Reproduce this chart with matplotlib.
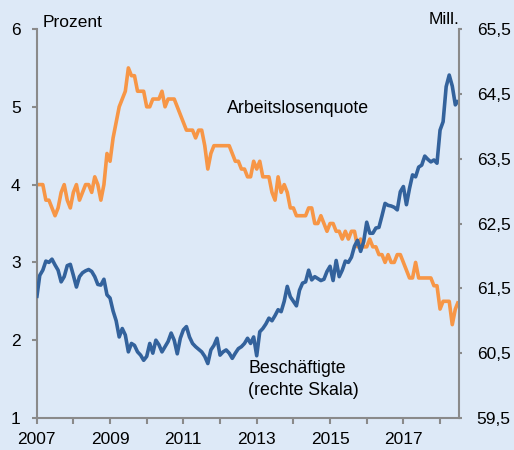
#!/usr/bin/env python3
# -*- coding: utf-8 -*-

import matplotlib
matplotlib.use("Agg")
import matplotlib.pyplot as plt
from matplotlib.ticker import FixedLocator, FuncFormatter


# Monatswerte, Januar 2007 bis Juli 2018 (eine Zeile je Jahr)
arbeitslosenquote = [
    4.0, 4.0, 4.0, 3.8, 3.8, 3.7, 3.6, 3.7, 3.9, 4.0, 3.8, 3.7,
    3.9, 4.0, 3.8, 3.9, 4.0, 4.0, 3.9, 4.1, 4.0, 3.8, 4.0, 4.4,
    4.3, 4.6, 4.8, 5.0, 5.1, 5.2, 5.5, 5.4, 5.4, 5.2, 5.2, 5.2,
    5.0, 5.0, 5.1, 5.1, 5.1, 5.2, 5.0, 5.1, 5.1, 5.1, 5.0, 4.9,
    4.8, 4.7, 4.7, 4.7, 4.6, 4.7, 4.7, 4.5, 4.2, 4.4, 4.5, 4.5,
    4.5, 4.5, 4.5, 4.5, 4.4, 4.3, 4.3, 4.2, 4.2, 4.1, 4.1, 4.3,
    4.2, 4.3, 4.1, 4.1, 4.1, 3.9, 3.8, 4.1, 3.9, 4.0, 3.9, 3.7,
    3.7, 3.6, 3.6, 3.6, 3.6, 3.7, 3.7, 3.5, 3.5, 3.6, 3.5, 3.4,
    3.5, 3.5, 3.4, 3.4, 3.3, 3.4, 3.3, 3.4, 3.4, 3.2, 3.3, 3.2,
    3.2, 3.3, 3.2, 3.2, 3.1, 3.1, 3.0, 3.1, 3.0, 3.0, 3.1, 3.1,
    3.0, 2.9, 2.8, 2.8, 3.0, 2.8, 2.8, 2.8, 2.8, 2.8, 2.7, 2.7,
    2.4, 2.5, 2.5, 2.5, 2.2, 2.4, 2.5,
]

# Beschaeftigte in Mill. (rechte Skala)
beschaeftigte = [
    61.35, 61.70, 61.78, 61.92, 61.90, 61.95, 61.86, 61.78, 61.60, 61.68, 61.85, 61.87,
    61.70, 61.52, 61.68, 61.74, 61.77, 61.79, 61.76, 61.68, 61.56, 61.55, 61.64, 61.40,
    61.35, 61.15, 61.00, 60.75, 60.88, 60.78, 60.52, 60.65, 60.62, 60.52, 60.47, 60.39,
    60.45, 60.65, 60.50, 60.70, 60.63, 60.52, 60.60, 60.68, 60.81, 60.70, 60.49, 60.73,
    60.86, 60.91, 60.75, 60.65, 60.60, 60.56, 60.52, 60.45, 60.34, 60.55, 60.62, 60.73,
    60.47, 60.52, 60.55, 60.50, 60.42, 60.50, 60.57, 60.60, 60.65, 60.73, 60.65, 60.75,
    60.46, 60.83, 60.88, 60.95, 61.04, 61.00, 61.08, 61.17, 61.14, 61.30, 61.53, 61.37,
    61.30, 61.23, 61.47, 61.58, 61.60, 61.78, 61.63, 61.68, 61.65, 61.62, 61.64, 61.76,
    61.84, 61.62, 61.93, 61.68, 61.78, 61.92, 61.90, 61.98, 62.15, 62.24, 62.07, 62.22,
    62.52, 62.35, 62.35, 62.43, 62.44, 62.62, 62.81, 62.78, 62.77, 62.75, 62.71, 62.99,
    63.07, 62.79, 63.04, 63.25, 63.22, 63.37, 63.40, 63.54, 63.49, 63.45, 63.48, 63.43,
    63.94, 64.07, 64.61, 64.79, 64.62, 64.33, 64.40,
]

jahre = [2007, 2009, 2011, 2013, 2015, 2017]
alle_jahre = list(range(2007, 2019))
ticks_links = [1, 2, 3, 4, 5, 6]
ticks_rechts = [59.5, 60.5, 61.5, 62.5, 63.5, 64.5, 65.5]

hintergrund = "#dde9f7"
orange = "#f79646"
blau = "#33629c"
grau = "#8a8a8a"

W, H = 514, 450


# Pixel (von oben links) -> Figurenkoordinaten
def px(x, y):
    return x / W, 1 - y / H


plt.rcParams["font.family"] = ["Liberation Sans", "DejaVu Sans"]

fig = plt.figure(figsize=(W / 100, H / 100), dpi=100, facecolor=hintergrund)
links, unten = px(36.7, 418)
ax = fig.add_axes([links, unten, (459.3 - 36.7) / W, (418 - 29) / H])
ax.set_facecolor(hintergrund)
ax2 = ax.twinx()

monate = list(range(len(arbeitslosenquote)))
ax.plot(monate, arbeitslosenquote, color=orange, lw=2.6,
        solid_joinstyle="round", solid_capstyle="butt")
ax2.plot(monate, beschaeftigte, color=blau, lw=2.6,
         solid_joinstyle="round", solid_capstyle="butt")

ax.set_xlim(0, 138.3)
ax.set_ylim(1, 6)
ax2.set_ylim(59.5, 65.5)

ax.xaxis.set_major_locator(FixedLocator([12 * (j - 2007) for j in jahre]))
ax.set_xticklabels([str(j) for j in jahre])
ax.xaxis.set_minor_locator(FixedLocator([12 * (j - 2007) for j in alle_jahre]))
ax.set_yticks(ticks_links)
ax2.set_yticks(ticks_rechts)
ax2.yaxis.set_major_formatter(FuncFormatter(lambda v, p: f"{v:.1f}".replace(".", ",")))

for a in (ax, ax2):
    for s in a.spines.values():
        s.set_visible(False)
ax.spines["left"].set_visible(True)
ax.spines["bottom"].set_visible(True)
ax2.spines["right"].set_visible(True)
for s in (ax.spines["left"], ax.spines["bottom"], ax2.spines["right"]):
    s.set_color(grau)
    s.set_linewidth(1.5)

ax.tick_params(axis="x", which="both", direction="out", length=4, width=1.5,
               color=grau, labelsize=12.5, pad=6)
ax.tick_params(axis="y", direction="out", length=3.5, width=1.5,
               color=grau, labelsize=12.5, pad=8)
ax2.tick_params(axis="y", direction="out", length=2.5, width=1.5,
                color=grau, labelsize=12.5, pad=10)

# Beschriftungen
fig.text(*px(42.5, 27.3), "Prozent", fontsize=12.5, va="baseline", ha="left")
fig.text(*px(460, 24), "Mill.", fontsize=12.5, va="baseline", ha="right")
fig.text(*px(226.5, 113), "Arbeitslosenquote", fontsize=12.8, va="baseline", ha="left")
fig.text(*px(248.5, 373.3), "Beschäftigte", fontsize=12.8, va="baseline", ha="left")
fig.text(*px(248.5, 395), "(rechte Skala)", fontsize=12.8, va="baseline", ha="left")

fig.savefig("out.png", dpi=100, facecolor=hintergrund)
